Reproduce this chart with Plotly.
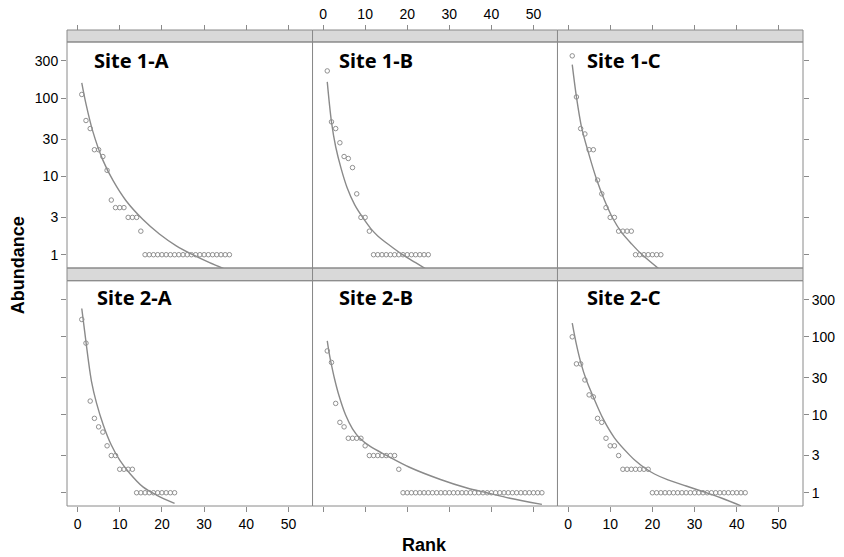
import plotly.graph_objects as go

# ---------------- data ----------------
site_labels = ["Site 1-A", "Site 1-B", "Site 1-C", "Site 2-A", "Site 2-B", "Site 2-C"]

# observed abundances, ordered by rank (rank = position + 1)
abund_1A = [112, 52, 41, 22, 22, 18, 12, 5, 4, 4, 4, 3, 3, 3, 2,
            1, 1, 1, 1, 1, 1, 1, 1, 1, 1, 1, 1, 1, 1, 1, 1, 1, 1, 1, 1, 1]
abund_1B = [224, 50, 41, 27, 18, 17, 13, 6, 3, 3, 2,
            1, 1, 1, 1, 1, 1, 1, 1, 1, 1, 1, 1, 1, 1]
abund_1C = [349, 104, 41, 35, 22, 22, 9, 6, 4, 3, 3, 2, 2, 2, 2,
            1, 1, 1, 1, 1, 1, 1]
abund_2A = [167, 83, 15, 9, 7, 6, 4, 3, 3, 2, 2, 2, 2,
            1, 1, 1, 1, 1, 1, 1, 1, 1, 1]
abund_2B = [66, 47, 14, 8, 7, 5, 5, 5, 5, 4, 3, 3, 3, 3, 3, 3, 3, 2,
            1, 1, 1, 1, 1, 1, 1, 1, 1, 1, 1, 1, 1, 1, 1, 1, 1,
            1, 1, 1, 1, 1, 1, 1, 1, 1, 1, 1, 1, 1, 1, 1, 1, 1]
abund_2C = [100, 45, 45, 28, 18, 17, 9, 8, 5, 4, 4, 3, 2, 2, 2, 2, 2, 2, 2,
            1, 1, 1, 1, 1, 1, 1, 1, 1, 1, 1, 1, 1, 1, 1, 1, 1, 1, 1, 1, 1, 1, 1]

# fitted rank-abundance model
fit_rank_1A = [1, 2, 3.6, 6, 8.4, 11.5, 15.5, 19.4, 23.4, 27.3, 31.3, 36]
fit_abund_1A = [158, 85, 38, 16.2, 8.9, 4.9, 2.82, 1.84, 1.30, 1.0, 0.79, 0.62]
fit_rank_1B = [1, 2, 3, 4.3, 5.7, 7.5, 9.5, 11.4, 13, 15.8, 18.9, 22, 25]
fit_abund_1B = [162, 50, 24, 12.6, 7.24, 4.37, 2.95, 2.14, 1.74, 1.32, 1.0, 0.79, 0.63]
fit_rank_1C = [1, 2, 3.2, 4.8, 6.8, 8.7, 10.7, 12.7, 15.1, 17.4, 22]
fit_abund_1C = [270, 104, 42.9, 20.5, 9.1, 4.9, 2.86, 1.93, 1.37, 1.02, 0.63]
fit_rank_2A = [1, 1.7, 2.5, 3.3, 4.5, 6.1, 8, 10, 12.4, 15.5, 18.7, 23]
fit_abund_2A = [231, 116, 52.8, 26.9, 14.1, 7.4, 4.09, 2.62, 1.77, 1.19, 0.935, 0.731]
fit_rank_2B = [1, 1.5, 2, 2.74, 3.76, 5.34, 7, 8.74, 11.3, 15.2, 20.4, 27.9, 34.2, 38.9, 44.4, 52]
fit_abund_2B = [89, 60, 43.7, 28.8, 17.8, 10.0, 6.6, 5.0, 3.9, 2.99, 2.14, 1.48, 1.15, 1.0, 0.85, 0.71]
fit_rank_2C = [1, 1.95, 3.13, 4.32, 5.9, 8.27, 11, 14.6, 16, 18.1, 20.5, 23.7, 28, 32.4, 36.5, 41]
fit_abund_2C = [150, 82, 44.7, 28.1, 17.4, 8.98, 5.07, 3.04, 2.57, 2.09, 1.74, 1.46, 1.22, 1.02, 0.85, 0.68]

x_tick_vals = [0, 10, 20, 30, 40, 50]
y_tick_vals = [1, 3, 10, 30, 100, 300]
y_tick_text = ["1", "3", "10", "30", "100", "300"]

abund_all = [abund_1A, abund_1B, abund_1C, abund_2A, abund_2B, abund_2C]
fit_rank_all = [fit_rank_1A, fit_rank_1B, fit_rank_1C, fit_rank_2A, fit_rank_2B, fit_rank_2C]
fit_abund_all = [fit_abund_1A, fit_abund_1B, fit_abund_1C, fit_abund_2A, fit_abund_2B, fit_abund_2C]

# ---------------- layout geometry ----------------
GRAY = "#8a8a8a"
MARK = "#909090"
col_dom = [[0.0, 0.3336], [0.3336, 0.6664], [0.6664, 1.0]]
row_dom = [[0.5, 0.9748], [0.0, 0.4733]]
strip_dom = [[0.9748, 1.0], [0.4733, 0.5]]
x_range = [-2.5, 55.7]
y_range = [-0.17, 2.72]
tick_font = dict(family="Liberation Sans, Arial, sans-serif", size=14, color="black")

fig = go.Figure()
layout = {}

for i in range(6):
    r, c = divmod(i, 3)
    n = i + 1
    xa = "x" if n == 1 else f"x{n}"
    ya = "y" if n == 1 else f"y{n}"
    ranks = list(range(1, len(abund_all[i]) + 1))
    fig.add_trace(go.Scatter(
        x=fit_rank_all[i], y=fit_abund_all[i], mode="lines",
        line=dict(color=GRAY, width=1.4, shape="spline", smoothing=0.9),
        xaxis=xa, yaxis=ya, showlegend=False, hoverinfo="skip"))
    fig.add_trace(go.Scatter(
        x=ranks, y=abund_all[i], mode="markers",
        marker=dict(symbol="circle-open", size=4.5, color=MARK, line=dict(width=1, color=MARK)),
        xaxis=xa, yaxis=ya, showlegend=False))

    xkey = "xaxis" if n == 1 else f"xaxis{n}"
    ykey = "yaxis" if n == 1 else f"yaxis{n}"
    xcfg = dict(domain=col_dom[c], range=x_range, tickvals=x_tick_vals,
                ticks="outside", ticklen=5, tickcolor=GRAY, tickwidth=1,
                showgrid=False, zeroline=False, showline=False,
                tickfont=tick_font, automargin=False)
    if r == 0:
        xcfg.update(anchor="free", position=1.0, side="top",
                    showticklabels=(c == 1))
    else:
        xcfg.update(anchor=ya, side="bottom", showticklabels=(c != 1))
    layout[xkey] = xcfg

    ycfg = dict(domain=row_dom[r], type="log", range=y_range,
                tickvals=y_tick_vals, ticktext=y_tick_text,
                showgrid=False, zeroline=False, showline=False,
                tickfont=tick_font, anchor=xa, automargin=False)
    if c == 0:
        ycfg.update(side="left", ticks="outside", ticklen=5, tickcolor=GRAY,
                    showticklabels=(r == 0))
    elif c == 2:
        ycfg.update(side="right", ticks="outside", ticklen=5, tickcolor=GRAY,
                    showticklabels=(r == 1))
    else:
        ycfg.update(ticks="", showticklabels=False)
    layout[ykey] = ycfg

shapes = []
for c in range(3):
    for r in range(2):
        shapes.append(dict(type="rect", xref="paper", yref="paper",
                           x0=col_dom[c][0], x1=col_dom[c][1],
                           y0=strip_dom[r][0], y1=strip_dom[r][1],
                           fillcolor="#d9d9d9", line=dict(color=GRAY, width=1),
                           layer="below"))
        shapes.append(dict(type="rect", xref="paper", yref="paper",
                           x0=col_dom[c][0], x1=col_dom[c][1],
                           y0=row_dom[r][0], y1=row_dom[r][1],
                           fillcolor="rgba(0,0,0,0)", line=dict(color=GRAY, width=1),
                           layer="above"))

label_pos = [(0.0336, 0.935), (0.3664, 0.935), (0.7038, 0.935),
             (0.038, 0.437), (0.3664, 0.437), (0.7038, 0.437)]
annotations = []
for (lx, ly), txt in zip(label_pos, site_labels):
    annotations.append(dict(x=lx, y=ly, xref="paper", yref="paper",
                            text=f"<b>{txt}</b>", showarrow=False,
                            xanchor="left", yanchor="middle",
                            font=dict(family="Noto Sans, sans-serif", size=20, color="black")))
annotations.append(dict(x=-0.0666, y=0.506, xref="paper", yref="paper",
                        text="<b>Abundance</b>", textangle=-90, showarrow=False,
                        xanchor="center", yanchor="middle",
                        font=dict(family="Liberation Sans, Arial, sans-serif", size=18, color="black")))
annotations.append(dict(x=0.486, y=-0.082, xref="paper", yref="paper",
                        text="<b>Rank</b>", showarrow=False,
                        xanchor="center", yanchor="middle",
                        font=dict(family="Liberation Sans, Arial, sans-serif", size=18, color="black")))

fig.update_layout(
    width=844, height=557,
    margin=dict(l=67, r=41, t=30, b=51, pad=0, autoexpand=False),
    paper_bgcolor="white", plot_bgcolor="white",
    shapes=shapes, annotations=annotations,
    **layout)

fig.write_html(
    "out.html",
    config={"displayModeBar": False},
    post_script="document.body.style.margin='0';document.body.style.overflow='hidden';",
)
